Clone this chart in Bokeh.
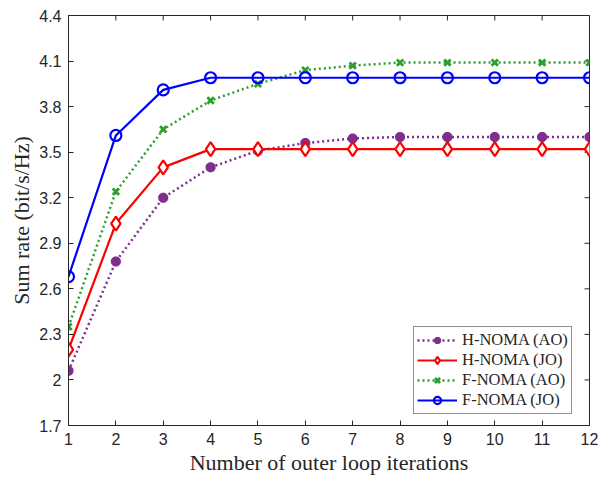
from bokeh.plotting import figure
from bokeh.models import FixedTicker, CustomJSTickFormatter, Range1d, Legend
from bokeh.embed import file_html
from bokeh.resources import INLINE

iterations = [1, 2, 3, 4, 5, 6, 7, 8, 9, 10, 11, 12]
h_noma_ao = [2.06, 2.78, 3.20, 3.40, 3.51, 3.56, 3.59, 3.60, 3.60, 3.60, 3.60, 3.60]
h_noma_jo = [2.20, 3.03, 3.40, 3.52, 3.52, 3.52, 3.52, 3.52, 3.52, 3.52, 3.52, 3.52]
f_noma_ao = [2.35, 3.24, 3.65, 3.84, 3.95, 4.04, 4.07, 4.09, 4.09, 4.09, 4.09, 4.09]
f_noma_jo = [2.68, 3.61, 3.91, 3.99, 3.99, 3.99, 3.99, 3.99, 3.99, 3.99, 3.99, 3.99]
xticks = [1, 2, 3, 4, 5, 6, 7, 8, 9, 10, 11, 12]
yticks = [1.7, 2.0, 2.3, 2.6, 2.9, 3.2, 3.5, 3.8, 4.1, 4.4]
labels = ["H-NOMA (AO)", "H-NOMA (JO)", "F-NOMA (AO)", "F-NOMA (JO)"]

AX = "#262626"
x0, x1 = xticks[0], xticks[-1]
y0, y1 = yticks[0], yticks[-1]
p = figure(width=601, height=477, output_backend="svg", toolbar_location=None,
           x_range=Range1d(x0, x1), y_range=Range1d(y0, y1),
           min_border_left=68, min_border_right=12, min_border_top=15, min_border_bottom=51)
p.background_fill_color = "white"
p.border_fill_color = "white"
p.grid.visible = False
p.outline_line_color = AX
p.outline_line_width = 1

fmt = CustomJSTickFormatter(code="return tick.toFixed(1).replace(/\\.0$/, '');")
xfmt = CustomJSTickFormatter(code="return tick.toFixed(0);")

for ax in p.xaxis:
    ax.ticker = FixedTicker(ticks=xticks)
    ax.formatter = xfmt
    ax.axis_label = "Number of outer loop iterations"
for ax in p.yaxis:
    ax.ticker = FixedTicker(ticks=yticks)
    ax.formatter = fmt
    ax.axis_label = "Sum rate (bit/s/Hz)"

for ax in p.xaxis + p.yaxis:
    ax.major_tick_in = 5
    ax.major_tick_out = 0
    ax.minor_tick_in = 0
    ax.minor_tick_out = 0
    ax.axis_line_color = AX
    ax.major_tick_line_color = AX
    ax.major_label_text_font = "Liberation Sans"
    ax.major_label_text_font_size = "16px"
    ax.major_label_text_color = AX
    ax.major_label_standoff = 7
    ax.axis_label_text_font = "Liberation Serif"
    ax.axis_label_text_font_size = "22px"
    ax.axis_label_text_font_style = "normal"
    ax.axis_label_text_color = AX
    ax.axis_label_standoff = 2

# inward ticks on the right and top edges (half of each dash is clipped by the frame)
p.scatter([x1] * len(yticks), yticks, marker="dash", size=10, line_color=AX, line_width=1)
p.scatter(xticks, [y1] * len(xticks), marker="dash", angle=1.5707963, size=10, line_color=AX, line_width=1)

r1 = p.line(iterations, h_noma_ao, line_color="#7E2F8E", line_width=2.5, line_dash="2 3")
s1 = p.scatter(iterations, h_noma_ao, marker="asterisk", size=10, line_color="#7E2F8E", line_width=3.5)
r2 = p.line(iterations, h_noma_jo, line_color="#FF0000", line_width=2.2)
s2 = p.scatter(iterations, h_noma_jo, marker="diamond", size=14, line_color="#FF0000",
               fill_color="white", line_width=2.2)
r3 = p.line(iterations, f_noma_ao, line_color="#2CA02C", line_width=2.5, line_dash="2 3")
s3 = p.scatter(iterations, f_noma_ao, marker="x", size=9, line_color="#2CA02C", line_width=2.8)
r4 = p.line(iterations, f_noma_jo, line_color="#0000FF", line_width=2.2)
s4 = p.scatter(iterations, f_noma_jo, marker="circle", size=11, line_color="#0000FF",
               fill_color=None, line_width=2.2)

for r in (s1, s2, s3, s4):
    try:
        r.clip = False
    except Exception:
        pass

legend = Legend(items=[(labels[0], [r1, s1]), (labels[1], [r2, s2]),
                       (labels[2], [r3, s3]), (labels[3], [r4, s4])],
                location=(345, 11), padding=3, spacing=0, margin=0,
                glyph_width=40, glyph_height=18, label_height=18, label_standoff=5,
                label_text_font="Liberation Serif", label_text_font_size="16.5px",
                label_text_color=AX, border_line_color=AX, border_line_width=1,
                background_fill_color="white", background_fill_alpha=1)
p.add_layout(legend)

open("out.html", "w").write(file_html(p, INLINE))
